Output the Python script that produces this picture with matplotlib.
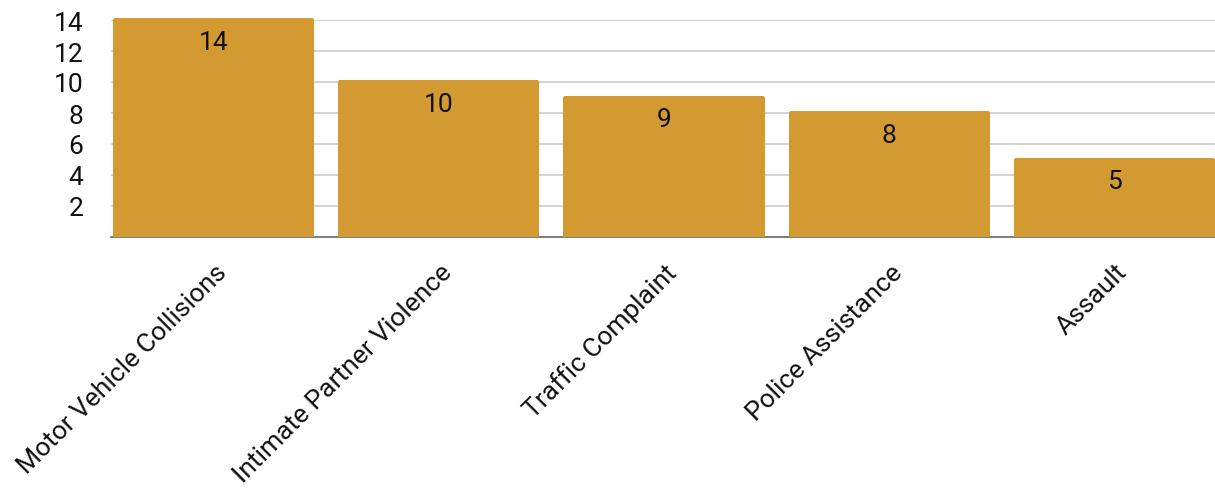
import matplotlib
matplotlib.use("Agg")
from matplotlib import pyplot as plt
from matplotlib.transforms import Bbox, TransformedBbox, ScaledTranslation

plt.rcParams['font.family'] = ['Roboto', 'DejaVu Sans']

categories = ["Motor Vehicle Collisions", "Intimate Partner Violence",
              "Traffic Complaint", "Police Assistance", "Assault"]
counts = [14, 10, 9, 8, 5]
yticks = [2, 4, 6, 8, 10, 12, 14]

bar_color = "#D39A31"

fig = plt.figure(figsize=(12.15, 4.89), dpi=100)
ax = fig.add_axes([111 / 1215, 1 - 238 / 489, 1104 / 1215, 217 / 489])

x = list(range(len(categories)))
bars = ax.bar(x, counts, width=0.875, color=bar_color, edgecolor=bar_color,
              linewidth=2.9, joinstyle='round', zorder=3)
# clip only below the baseline so the rounded tops stay visible
clip = TransformedBbox(Bbox([[0, 0], [1, 1.2]]), ax.transAxes)
for b in bars:
    b.set_clip_box(clip)

for xi, v in zip(x, counts):
    ax.annotate(str(v), (xi, v), xytext=(0, -7), textcoords="offset points",
                ha='center', va='top', fontsize=19, color="#111111", zorder=4)

ax.set_xlim(-0.455, 4.446)
ax.set_ylim(0, 14)
ax.set_yticks(yticks)
ax.set_yticklabels([str(t) for t in yticks], fontsize=19, color="#111111")
ax.tick_params(axis='y', length=0, pad=20)
ax.grid(axis='y', color="#cccccc", linewidth=1.2, zorder=0)
ax.set_axisbelow(True)

ax.set_xticks(x)
ax.set_xticklabels(categories, rotation=45, ha='right', va='center',
                   rotation_mode='anchor', fontsize=19, color="#111111")
ax.tick_params(axis='x', length=0, pad=0)
offset = ScaledTranslation(9 / 100, -31 / 100, fig.dpi_scale_trans)
for lbl in ax.get_xticklabels():
    lbl.set_transform(lbl.get_transform() + offset)

for s in ['left', 'right', 'top']:
    ax.spines[s].set_visible(False)
ax.spines['bottom'].set_color("#666666")
ax.spines['bottom'].set_linewidth(1.2)
ax.spines['bottom'].set_zorder(2)

fig.savefig("out.png", dpi=100)
